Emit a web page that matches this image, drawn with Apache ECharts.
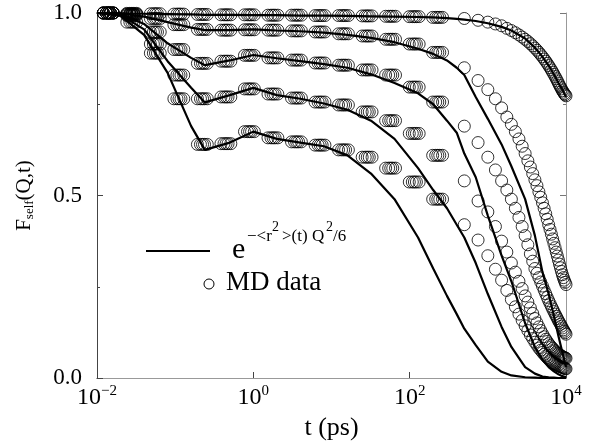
<!DOCTYPE html>
<html><head><meta charset="utf-8">
<script src="https://cdn.jsdelivr.net/npm/echarts@6/dist/echarts.min.js"></script>
<style>html,body{margin:0;padding:0;background:#fff}#c{width:598px;height:448px}</style>
</head><body><div id="c"></div>
<script>
// ---- data ----
// Gaussian-approximation curves e^{-<r^2>(t)Q^2/6}
const lineTimes = [0.01, 0.02, 0.04, 0.08, 0.16, 0.24, 0.5, 1, 2, 4, 8, 16, 32, 64, 128, 200, 300, 400, 500, 700, 1000, 1500, 2000, 3000, 4000, 5000, 6000, 7000, 8000, 9000, 10000];
const line1 = [1.0, 0.999, 0.998, 0.997, 0.996, 0.995, 0.995, 0.994, 0.994, 0.993, 0.993, 0.992, 0.991, 0.99, 0.989, 0.988, 0.986, 0.984, 0.982, 0.978, 0.972, 0.962, 0.952, 0.93, 0.905, 0.88, 0.856, 0.832, 0.808, 0.79, 0.77];
const line2 = [1.0, 0.999, 0.99, 0.975, 0.96, 0.953, 0.953, 0.955, 0.952, 0.95, 0.946, 0.94, 0.932, 0.92, 0.902, 0.888, 0.87, 0.85, 0.83, 0.77, 0.71, 0.64, 0.58, 0.49, 0.39, 0.29, 0.23, 0.17, 0.115, 0.07, 0.03];
const line3 = [1.0, 0.998, 0.97, 0.917, 0.877, 0.857, 0.87, 0.885, 0.876, 0.868, 0.86, 0.85, 0.832, 0.808, 0.78, 0.75, 0.705, 0.672, 0.615, 0.55, 0.445, 0.335, 0.265, 0.15, 0.085, 0.05, 0.03, 0.018, 0.01, 0.005, 0.002];
const line4 = [1.0, 0.995, 0.955, 0.868, 0.795, 0.755, 0.775, 0.795, 0.775, 0.765, 0.752, 0.735, 0.705, 0.655, 0.575, 0.515, 0.465, 0.42, 0.385, 0.315, 0.23, 0.14, 0.085, 0.03, 0.012, 0.004, 0.002, 0.001, 0, 0, 0];
const line5 = [1.0, 0.992, 0.94, 0.836, 0.69, 0.625, 0.645, 0.675, 0.655, 0.645, 0.635, 0.61, 0.56, 0.49, 0.385, 0.30, 0.225, 0.175, 0.135, 0.09, 0.045, 0.017, 0.007, 0.002, 0.001, 0, 0, 0, 0, 0, 0];

// MD data, early times (clustered samples)
const mdEarlyTimes = [0.014, 0.028, 0.056, 0.112, 0.224, 0.448, 0.896, 1.79, 3.58, 7.17, 14.3, 28.7, 57.3, 115, 229];
const md1Early = [1.0, 0.999, 0.998, 0.997, 0.996, 0.995, 0.995, 0.994, 0.994, 0.993, 0.993, 0.992, 0.991, 0.99, 0.988];
const md2Early = [1.0, 0.997, 0.985, 0.968, 0.955, 0.953, 0.954, 0.953, 0.951, 0.948, 0.943, 0.937, 0.928, 0.915, 0.892];
const md3Early = [1.0, 0.996, 0.948, 0.9, 0.862, 0.868, 0.884, 0.877, 0.871, 0.863, 0.857, 0.844, 0.83, 0.797, 0.756];
const md4Early = [1.0, 0.993, 0.915, 0.83, 0.765, 0.77, 0.792, 0.778, 0.767, 0.756, 0.748, 0.729, 0.705, 0.67, 0.61];
const md5Early = [1.0, 0.975, 0.89, 0.765, 0.64, 0.642, 0.675, 0.658, 0.647, 0.638, 0.625, 0.605, 0.575, 0.537, 0.49];

// MD data, late times
const mdLateTimes = [500,750,1000,1250,1500,1750,2000,2250,2500,2750,3000,3250,3500,3750,4000,4250,4500,4750,5000,5250,5500,5750,6000,6250,6500,6750,7000,7250,7500,7750,8000,8250,8500,8750,9000,9250,9500,9750,10000];
const md1Late = [0.985,0.98,0.975,0.97,0.965,0.958,0.952,0.946,0.94,0.934,0.928,0.922,0.916,0.91,0.904,0.898,0.892,0.886,0.88,0.874,0.868,0.862,0.856,0.85,0.844,0.838,0.832,0.826,0.82,0.814,0.808,0.802,0.797,0.792,0.787,0.783,0.779,0.776,0.773];
const md2Late = [0.85,0.815,0.79,0.765,0.74,0.715,0.695,0.675,0.655,0.635,0.615,0.595,0.578,0.56,0.543,0.527,0.51,0.495,0.48,0.465,0.45,0.435,0.42,0.407,0.394,0.381,0.369,0.357,0.345,0.334,0.323,0.312,0.302,0.292,0.283,0.275,0.268,0.262,0.256];
const md3Late = [0.69,0.645,0.605,0.57,0.54,0.515,0.49,0.465,0.44,0.415,0.39,0.365,0.34,0.32,0.30,0.287,0.275,0.263,0.252,0.241,0.231,0.221,0.212,0.204,0.196,0.189,0.182,0.175,0.169,0.163,0.157,0.152,0.147,0.142,0.137,0.132,0.128,0.124,0.12];
const md4Late = [0.54,0.485,0.455,0.415,0.375,0.345,0.315,0.29,0.265,0.245,0.225,0.208,0.192,0.177,0.163,0.151,0.14,0.13,0.121,0.113,0.106,0.1,0.094,0.089,0.085,0.081,0.077,0.074,0.071,0.068,0.066,0.064,0.062,0.06,0.058,0.057,0.056,0.055,0.054];
const md5Late = [0.42,0.378,0.335,0.298,0.268,0.24,0.215,0.195,0.175,0.158,0.143,0.13,0.118,0.108,0.098,0.09,0.082,0.076,0.07,0.065,0.06,0.056,0.052,0.049,0.046,0.043,0.041,0.039,0.037,0.035,0.034,0.032,0.031,0.03,0.029,0.028,0.027,0.026,0.025];

// axis
const xTickExponents = [-2, 0, 2, 4];
const yTicks = [0, 0.5, 1.0];

// ---- drawing ----
const SERIF = "'Liberation Serif','Times New Roman',serif";
const chart = echarts.init(document.getElementById('c'), null, {renderer: 'canvas'});

// each early MD time is drawn as a small cluster of overlapping rings (repeated runs)
const CLUSTER = [0.86, 0.94, 1.0, 1.06, 1.15];
function mdSeries(early, late) {
  const pts = [];
  mdEarlyTimes.forEach((t, i) => CLUSTER.forEach(f => pts.push([t * f, early[i]])));
  mdLateTimes.forEach((t, i) => pts.push([t, late[i]]));
  return {
    type: 'scatter', data: pts, symbol: 'circle', symbolSize: 12, clip: false,
    itemStyle: {color: 'rgba(0,0,0,0)', borderColor: '#000', borderWidth: 1},
    emphasis: {disabled: true}, silent: true, z: 2
  };
}
function lineSeries(vals) {
  return {
    type: 'line', data: lineTimes.map((t, i) => [t, vals[i]]), showSymbol: false,
    lineStyle: {color: '#000', width: 2.2}, emphasis: {disabled: true}, silent: true, z: 3
  };
}
const supDigits = e => (e < 0 ? '\u2212' + (-e) : '' + e);

const option = {
  animation: false,
  backgroundColor: '#fff',
  grid: {left: 97, right: 32, top: 13, bottom: 70},
  xAxis: [{
    type: 'log', logBase: 10, min: 0.01, max: 10000, interval: 2,
    axisLine: {lineStyle: {color: '#444', width: 1}},
    axisTick: {inside: true, length: 6, lineStyle: {color: '#444'}},
    splitLine: {show: false},
    axisLabel: {
      margin: 6,
      formatter: v => {
        const e = Math.round(Math.log10(v));
        if (xTickExponents.indexOf(e) < 0) return '';
        return '{b|10}{s|' + supDigits(e) + '}';
      },
      rich: {
        b: {fontFamily: SERIF, fontSize: 24, lineHeight: 28, color: '#000'},
        s: {fontFamily: SERIF, fontSize: 15, lineHeight: 15, verticalAlign: 'top', color: '#000'}
      }
    },
    name: 't (ps)', nameLocation: 'middle', nameGap: 32,
    nameTextStyle: {fontFamily: SERIF, fontSize: 26, color: '#000'}
  }, {
    type: 'log', logBase: 10, min: 0.01, max: 10000, position: 'top',
    axisLine: {lineStyle: {color: '#999'}}, axisTick: {show: false},
    axisLabel: {show: false}, splitLine: {show: false}
  }],
  yAxis: [{
    type: 'value', min: 0, max: 1, interval: 0.5,
    axisLine: {show: true, lineStyle: {color: '#444'}},
    axisTick: {show: true, inside: true, length: 6, lineStyle: {color: '#444'}},
    minorTick: {show: true, splitNumber: 2, length: 3, lineStyle: {color: '#444'}},
    splitLine: {show: false},
    axisLabel: {margin: 15, fontFamily: SERIF, fontSize: 23, color: '#000',
      formatter: v => (yTicks.some(t => Math.abs(t - v) < 1e-9) ? v.toFixed(1) : '')},
    name: '{a|F}{b|self}{a|(Q,t)}', nameLocation: 'middle', nameGap: 61, nameRotate: 90,
    nameTextStyle: {rich: {
      a: {fontFamily: SERIF, fontSize: 21, lineHeight: 24, color: '#000'},
      b: {fontFamily: SERIF, fontSize: 13, lineHeight: 13, verticalAlign: 'bottom', color: '#000'}
    }}
  }, {
    type: 'value', min: 0, max: 1, interval: 0.5, position: 'right',
    axisLine: {show: true, lineStyle: {color: '#999'}},
    axisTick: {show: true, inside: true, length: 6, lineStyle: {color: '#777'}},
    minorTick: {show: true, splitNumber: 2, length: 3, lineStyle: {color: '#777'}},
    axisLabel: {show: false}, splitLine: {show: false}
  }],
  series: [
    mdSeries(md1Early, md1Late), mdSeries(md2Early, md2Late), mdSeries(md3Early, md3Late),
    mdSeries(md4Early, md4Late), mdSeries(md5Early, md5Late),
    lineSeries(line1), lineSeries(line2), lineSeries(line3), lineSeries(line4), lineSeries(line5)
  ],
  graphic: [
    {type: 'line', shape: {x1: 146, y1: 251, x2: 210, y2: 251}, style: {stroke: '#000', lineWidth: 2.2}},
    {type: 'text', x: 232, y: 250, style: {text: 'e', font: '30px ' + SERIF, fill: '#000', textVerticalAlign: 'middle', verticalAlign: 'middle'}},
    {type: 'text', x: 247, y: 237, style: {text: '\u2212<r', font: '17px ' + SERIF, fill: '#000', textVerticalAlign: 'middle', verticalAlign: 'middle'}},
    {type: 'text', x: 272, y: 227, style: {text: '2', font: '14px ' + SERIF, fill: '#000', textVerticalAlign: 'middle', verticalAlign: 'middle'}},
    {type: 'text', x: 282, y: 237, style: {text: '>(t) Q', font: '17px ' + SERIF, fill: '#000', textVerticalAlign: 'middle', verticalAlign: 'middle'}},
    {type: 'text', x: 326, y: 227, style: {text: '2', font: '14px ' + SERIF, fill: '#000', textVerticalAlign: 'middle', verticalAlign: 'middle'}},
    {type: 'text', x: 333, y: 237, style: {text: '/6', font: '17px ' + SERIF, fill: '#000', textVerticalAlign: 'middle', verticalAlign: 'middle'}},
    {type: 'circle', shape: {cx: 209, cy: 284, r: 5}, style: {fill: 'none', stroke: '#000', lineWidth: 1}},
    {type: 'text', x: 226, y: 283, style: {text: 'MD data', font: '27px ' + SERIF, fill: '#000', textVerticalAlign: 'middle', verticalAlign: 'middle'}}
  ]
};
chart.setOption(option);
</script>
</body></html>
